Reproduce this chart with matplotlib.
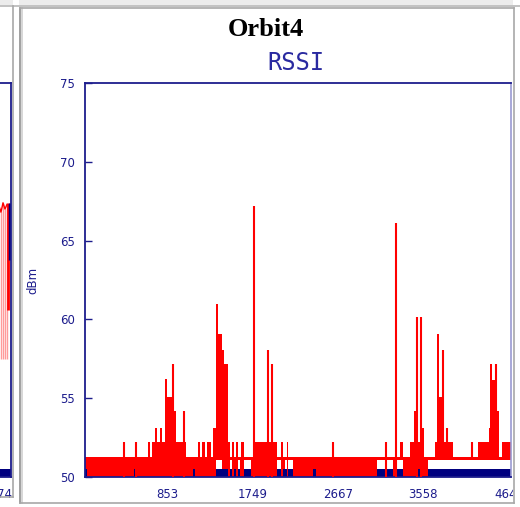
import numpy as np
import matplotlib.pyplot as plt
from matplotlib.patches import Rectangle
from matplotlib.lines import Line2D

W, H = 520, 507

# RSSI trace of Orbit4: red level drawn as steps (edge positions, top, bottom in dBm)
seg_edges = [0, 2, 49, 51, 63, 65, 67, 70, 72, 75, 77, 80, 82, 87, 91,
             101, 108, 110, 113, 115, 117, 120, 122, 126, 128, 131, 133, 137, 139, 143,
             145, 147, 149, 151, 153, 155, 156, 159, 166, 170, 192, 196, 198, 200, 202,
             203, 208, 228, 231, 247, 249, 292, 308, 312, 315, 318, 325, 329, 331, 337,
             339, 343, 350, 352, 354, 357, 368, 393, 404, 405, 407, 410, 414, 417, 426]
seg_top = [51.3, 51.3, 51.3, 51.3, 52.2, 51.3, 52.2, 53.1, 52.2, 53.1,
           52.2, 56.2, 55.1, 54.2, 52.2, 51.3, 51.3, 51.3, 52.2, 51.3,
           52.2, 51.3, 52.2, 51.3, 53.1, 61.0, 59.1, 58.05, 57.2, 52.2,
           51.25, 52.2, 51.3, 52.2, 51.25, 51.3, 52.2, 51.25, 51.3, 52.2,
           51.25, 52.2, 51.3, 51.25, 52.2, 51.25, 51.3, 51.3, 51.3, 51.3,
           51.3, 51.25, 51.3, 51.25, 52.2, 51.3, 52.2, 54.2, 52.2, 53.1,
           51.3, 51.25, 52.2, 59.1, 55.1, 52.2, 51.25, 52.2, 53.1, 57.2,
           56.15, 54.2, 51.25, 52.2]
seg_bot = [50.5, 50, 50.5, 50, 50, 50, 50, 50, 50, 50,
           50, 50, 50, 50, 50, 50, 50.5, 50, 50, 50,
           50, 50, 50, 50, 50, 51.05, 51.05, 50.5, 50.5, 50,
           51.05, 50, 50.5, 50, 51.05, 50, 50, 51.05, 50, 50,
           51.05, 50, 50.5, 51.05, 50, 51.05, 50, 50.5, 50, 50.5,
           50, 51.05, 50, 51.05, 51.05, 50, 50, 50, 50.5, 50,
           50, 51.05, 51.05, 51.05, 51.05, 51.05, 51.05, 51.05, 51.05, 51.05,
           51.05, 51.05, 51.05, 51.05]

# single-sample spikes
spike_x = [39, 51, 88, 99, 169, 183, 187, 248, 301, 311, 332, 336, 357.5, 362, 387, 411]
spike_top = [52.2, 52.2, 57.2, 54.2, 67.2, 58.05, 57.2, 52.2, 52.2, 66.1,
             60.15, 60.15, 58.05, 53.1, 52.2, 57.2]
spike_base = [50, 50, 50, 50, 50, 50, 50, 50, 50, 50, 50, 50, 51.05, 51.05, 51.05, 51.05]

navy_level = 50.5   # blue series along the bottom

tick_pos = [82, 168, 253, 338, 424]
tick_labels = ['853', '1749', '2667', '3558', '4640']
y_ticks = [50, 55, 60, 65, 70, 75]

# tail end of the neighbouring chart (left panel)
left_x = [414, 416, 418, 420, 422]
left_top = [67.2, 66.8, 67.4, 67.0, 67.3]

RED = '#ff0000'
NAVY = '#00007f'
FRAME = '#1c1c8c'

fig = plt.figure(figsize=(W / 100, H / 100), dpi=100, facecolor='white')


def box(x0, x1, y0, y1):
    return [x0 / W, 1 - y1 / H, (x1 - x0) / W, (y1 - y0) / H]


ax = fig.add_axes(box(85, 511, 83, 477))
ax.set_xlim(0, 426)
ax.set_ylim(50, 75)

ax.axhspan(50, navy_level, color=NAVY, lw=0, zorder=1)
edges = np.array(seg_edges, dtype=float)
top = np.array(seg_top)
bot = np.array(seg_bot)
ax.bar(edges[:-1], top - bot, width=np.diff(edges), bottom=bot, align='edge',
       color=RED, lw=0, zorder=2)
ax.vlines(spike_x, spike_base, spike_top, color=RED, lw=1.5, zorder=3)

for s in ['left', 'top', 'bottom']:
    ax.spines[s].set_color(FRAME)
    ax.spines[s].set_linewidth(1.3)
ax.spines['right'].set_color('#9a9ad2')
ax.spines['right'].set_linewidth(1.2)

ax.set_yticks(y_ticks)
ax.set_yticklabels([str(v) for v in y_ticks])
ax.tick_params(axis='y', direction='in', length=5, width=1, color=FRAME,
               labelcolor=FRAME, labelsize=8.5, pad=7, right=False)
ax.set_xticks(tick_pos)
ax.set_xticklabels(tick_labels)
ax.tick_params(axis='x', length=0, labelcolor=FRAME, labelsize=8.5, pad=8)
ax.set_ylabel('dBm', color=FRAME, fontsize=8.5)
ax.yaxis.set_label_coords(-0.106, 0.5)

# left neighbour panel, mostly off-screen
axl = fig.add_axes(box(11 - 426, 11, 83, 477))
axl.set_xlim(0, 426)
axl.set_ylim(50, 75)
axl.axhspan(50, navy_level, color=NAVY, lw=0)
axl.vlines(left_x, 57.5, left_top, color='#ff9a9a', lw=1)
axl.plot(left_x, left_top, color=RED, lw=1)
axl.vlines([423.5], 60.6, 67.4, color=RED, lw=2)
axl.vlines([425.3], 63.8, 67.4, color=NAVY, lw=2.5)
for s in axl.spines.values():
    s.set_color(FRAME)
    s.set_linewidth(1.3)
axl.set_xticks([])
axl.set_yticks([])
fig.text(12.5 / W, 1 - 494 / H, '4674', ha='right', va='center',
         color=FRAME, fontsize=8.5)

# titles
fig.text(266 / W, 1 - 30 / H, 'Orbit4', ha='center', va='center',
         fontsize=19, fontweight='bold', family='Liberation Serif')
fig.text(296 / W, 1 - 63 / H, 'RSSI', ha='center', va='center',
         fontsize=17, color='#2a2aa0', family='DejaVu Sans Mono')

# panel frames
fig.add_artist(Rectangle((0, 1 - 5 / H), 1, 5 / H, transform=fig.transFigure,
                         color='#ececec', lw=0, zorder=5))
fig.add_artist(Rectangle((513 / W, 0), 7 / W, 1, transform=fig.transFigure,
                         color='white', lw=0, zorder=5))
fig.add_artist(Rectangle((12.6 / W, 0), 6 / W, 1, transform=fig.transFigure,
                         color='white', lw=0, zorder=5))


def gline(x0, y0, x1, y1, c='#a8a8a8', lw=1.2):
    fig.add_artist(Line2D([x0 / W, x1 / W], [1 - y0 / H, 1 - y1 / H],
                          transform=fig.transFigure, color=c, lw=lw, zorder=6))


gline(0, 6, W, 6, '#b8b8b8')
gline(13, 6, 13, 497)
gline(0, 497, 13, 497)
gline(19.5, 8, 19.5, 503, '#909090')
gline(21.5, 8, 21.5, 503, '#d0d0d0')
gline(19.5, 8, 513.5, 8)
gline(513.5, 8, 513.5, 503)
gline(19.5, 503, 513.5, 503)

fig.savefig('out.png', dpi=100)
